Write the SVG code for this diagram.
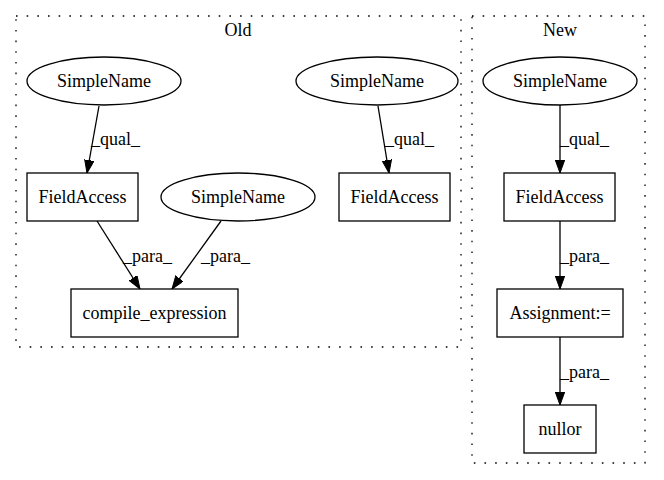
<svg xmlns="http://www.w3.org/2000/svg" width="664" height="480" viewBox="0 0 664 480">
<style>
text{font-family:"Liberation Serif","Times New Roman",Times,serif;font-size:18px;fill:#000}
.n{fill:#fff;stroke:#000;stroke-width:1.3}
.c{fill:none;stroke:#000;stroke-width:1.3;stroke-dasharray:1.6,9.07}
.e{fill:none;stroke:#000;stroke-width:1.3;marker-end:url(#a)}
</style>
<defs>
<marker id="a" markerWidth="14" markerHeight="10" refX="13" refY="4.7" orient="auto" markerUnits="userSpaceOnUse">
<polygon points="0,0 13,4.7 0,9.4" fill="#000" stroke="#000" stroke-width="1"/>
</marker>
</defs>
<rect width="664" height="480" fill="#fff"/>
<g id="cluster_old">
<rect class="c" x="16" y="16" width="445" height="331"/>
<text x="238" y="36" text-anchor="middle" font-family="Liberation Serif, serif">Old</text>
</g>
<g id="cluster_new">
<rect class="c" x="472" y="16" width="173" height="447"/>
<text x="560" y="36" text-anchor="middle" font-family="Liberation Serif, serif">New</text>
</g>
<g id="edges">
<path class="e" d="M99,106 L87,173"/>
<text x="91" y="145" font-family="Liberation Serif, serif">_qual_</text>
<path class="e" d="M378,106 L389,173"/>
<text x="385" y="145" font-family="Liberation Serif, serif">_qual_</text>
<path class="e" d="M97,221 L140,289"/>
<text x="123" y="262" font-family="Liberation Serif, serif">_para_</text>
<path class="e" d="M221,221 L172,289"/>
<text x="201" y="262" font-family="Liberation Serif, serif">_para_</text>
<path class="e" d="M560,105 L560,173"/>
<text x="560" y="145" font-family="Liberation Serif, serif">_qual_</text>
<path class="e" d="M560,221 L560,289"/>
<text x="560" y="262" font-family="Liberation Serif, serif">_para_</text>
<path class="e" d="M560,337 L560,405"/>
<text x="560" y="378" font-family="Liberation Serif, serif">_para_</text>
</g>
<g id="simplename1">
<ellipse class="n" cx="104" cy="81" rx="77" ry="24"/>
<text x="104" y="87" text-anchor="middle" font-family="Liberation Serif, serif">SimpleName</text>
</g>
<g id="simplename2">
<ellipse class="n" cx="377" cy="81" rx="81" ry="24"/>
<text x="377" y="87" text-anchor="middle" font-family="Liberation Serif, serif">SimpleName</text>
</g>
<g id="fieldaccess1">
<rect class="n" x="27" y="173" width="111" height="48"/>
<text x="82.5" y="203" text-anchor="middle" font-family="Liberation Serif, serif">FieldAccess</text>
</g>
<g id="simplename3">
<ellipse class="n" cx="238" cy="197" rx="77" ry="24"/>
<text x="238" y="203" text-anchor="middle" font-family="Liberation Serif, serif">SimpleName</text>
</g>
<g id="fieldaccess2">
<rect class="n" x="339" y="173" width="111" height="48"/>
<text x="394.5" y="203" text-anchor="middle" font-family="Liberation Serif, serif">FieldAccess</text>
</g>
<g id="compile_expression">
<rect class="n" x="71" y="289" width="167" height="48"/>
<text x="154.5" y="319" text-anchor="middle" font-family="Liberation Serif, serif">compile_expression</text>
</g>
<g id="simplename_new">
<ellipse class="n" cx="560" cy="81" rx="77" ry="24"/>
<text x="560" y="87" text-anchor="middle" font-family="Liberation Serif, serif">SimpleName</text>
</g>
<g id="fieldaccess_new">
<rect class="n" x="504" y="173" width="111" height="48"/>
<text x="559.5" y="203" text-anchor="middle" font-family="Liberation Serif, serif">FieldAccess</text>
</g>
<g id="assignment">
<rect class="n" x="497" y="289" width="126" height="48"/>
<text x="560" y="319" text-anchor="middle" font-family="Liberation Serif, serif">Assignment:=</text>
</g>
<g id="nullor">
<rect class="n" x="524" y="405" width="72" height="48"/>
<text x="560" y="435" text-anchor="middle" font-family="Liberation Serif, serif">nullor</text>
</g>
</svg>
